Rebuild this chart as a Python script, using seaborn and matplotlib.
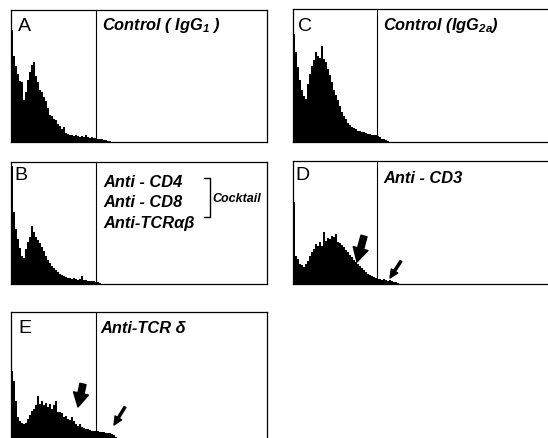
import numpy as np
import pandas as pd
import seaborn as sns
import matplotlib.pyplot as plt

# fluorescence histograms: events per 2-channel bin
counts_a = [112, 86, 76, 68, 61, 60, 42, 50, 62, 70, 77, 80, 66, 60, 52, 50, 45, 41,
            34, 27, 26, 23, 22, 18, 16, 13, 15, 9, 8, 7, 7, 6, 7, 6, 5, 6, 5, 7, 5,
            4, 5, 4, 4, 3, 3, 3, 2, 2, 1, 1]
counts_b = [118, 72, 55, 45, 36, 28, 26, 35, 42, 47, 58, 52, 47, 44, 41, 37, 33, 28,
            24, 21, 18, 16, 14, 12, 10, 9, 8, 7, 6, 6, 5, 6, 5, 4, 5, 8, 4, 4, 3, 3,
            3, 3, 2, 2, 1, 0]
counts_c = [108, 90, 75, 62, 52, 46, 43, 58, 68, 76, 82, 90, 86, 84, 96, 83, 80, 73,
            67, 60, 52, 47, 42, 36, 30, 26, 23, 19, 17, 15, 14, 13, 11, 11, 10, 10,
            9, 8, 8, 7, 7, 7, 6, 5, 3, 3, 2, 1, 0]
counts_d = [82, 28, 25, 20, 19, 17, 20, 23, 28, 32, 35, 40, 38, 42, 38, 52, 43, 46,
            45, 48, 47, 50, 42, 41, 39, 37, 34, 32, 29, 27, 24, 22, 20, 18, 16, 14,
            12, 10, 9, 8, 7, 6, 5, 5, 4, 5, 4, 3, 4, 3, 2, 2, 1, 0]
counts_e = [70, 60, 40, 24, 20, 18, 17, 18, 22, 26, 30, 32, 36, 45, 37, 40, 36, 38,
            34, 37, 32, 36, 40, 29, 29, 28, 24, 25, 22, 21, 24, 20, 17, 15, 17, 14,
            13, 12, 12, 11, 10, 10, 10, 10, 9, 9, 9, 8, 8, 8, 7, 6, 4, 2]

letters = ["A", "B", "C", "D", "E"]
labels = {
    "A": ["Control ( IgG$_1$ )"],
    "B": ["Anti - CD4", "Anti - CD8", "Anti-TCR\u03b1\u03b2"],
    "C": ["Control (IgG$_{2a}$)"],
    "D": ["Anti - CD3"],
    "E": ["Anti-TCR \u03b4"],
}
cocktail_label = "Cocktail"
gate_channel = {"A": 85, "B": 85, "C": 84, "D": 84, "E": 85}

sns.set_style("white")
plt.rcParams["font.family"] = ["Liberation Sans", "DejaVu Sans"]
plt.rcParams["mathtext.fontset"] = "custom"
plt.rcParams["mathtext.rm"] = "Liberation Sans:italic:bold"
plt.rcParams["mathtext.it"] = "Liberation Sans:italic:bold"

W, H = 548, 439
fig = plt.figure(figsize=(W / 100, H / 100), dpi=100)

# panel boxes in pixels: left, top, width, height
boxes = {
    "A": (11, 11, 256, 132),
    "B": (11, 163, 256, 122),
    "C": (293, 10, 256, 133),
    "D": (293, 162, 256, 123),
    "E": (11, 313, 256, 129),
}
counts = {"A": counts_a, "B": counts_b, "C": counts_c, "D": counts_d, "E": counts_e}
letter_pos = {"A": (7, 20), "B": (3, 17), "C": (5, 21), "D": (2, 18), "E": (7, 20)}
label_pos = {"A": (91, 19), "B": (92, 24), "C": (90, 20), "D": (90, 21), "E": (89, 20)}

for key in letters:
    l, t, w, h = boxes[key]
    ax = fig.add_axes([l / W, 1 - (t + h) / H, w / W, h / H])
    vals = counts[key]
    # one row per event so histplot rebuilds the same counts
    events = pd.DataFrame({"channel": np.repeat(np.arange(len(vals)) * 2 + 1, vals)})
    sns.histplot(data=events, x="channel", bins=np.arange(0, 2 * len(vals) + 1, 2),
                 element="step", fill=True, color="black", alpha=1, linewidth=0, ax=ax)
    ax.set_xlim(0, w)
    ax.set_ylim(0, h)
    ax.set_xticks([])
    ax.set_yticks([])
    ax.set_xlabel("")
    ax.set_ylabel("")
    for s in ax.spines.values():
        s.set_color("black")
        s.set_linewidth(0.9)
    ax.axvline(gate_channel[key], color="black", lw=0.8)

    lx, ly = letter_pos[key]
    ax.text(lx, h - ly, key, fontsize=14, color="black", va="baseline")
    tx, ty = label_pos[key]
    for i, line in enumerate(labels[key]):
        ax.text(tx, h - ty - 20.5 * i, line, fontsize=11.8, fontstyle="italic",
                fontweight="bold", color="black", va="baseline")

    if key == "B":
        ax.plot([193, 199, 199, 193], [106, 106, 67, 67], color="black", lw=1.0)
        ax.text(201, 83, cocktail_label, fontsize=9, fontstyle="italic",
                fontweight="bold", color="black", va="baseline")

    if key in ("D", "E"):
        big = {"D": ((71, 48), (64, 22)), "E": ((72, 57), (67, 34))}[key]
        small = {"D": ((108, 23), (97, 6)), "E": ((114, 34), (103, 16))}[key]
        ax.annotate("", xy=big[1], xytext=big[0],
                    arrowprops=dict(arrowstyle="simple,head_length=1.0,head_width=1.1,tail_width=0.45",
                                    color="black", shrinkA=0, shrinkB=0, mutation_scale=10))
        ax.annotate("", xy=small[1], xytext=small[0],
                    arrowprops=dict(arrowstyle="simple,head_length=0.6,head_width=0.55,tail_width=0.15",
                                    color="black", shrinkA=0, shrinkB=0, mutation_scale=10))

fig.savefig("out.png", dpi=100)
plt.close(fig)
